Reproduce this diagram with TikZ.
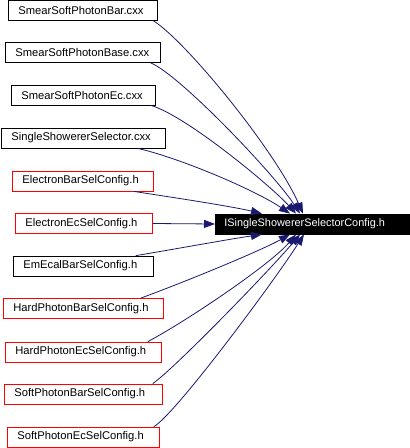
\documentclass[tikz,border=0pt]{standalone}
\usepackage{fontspec}
\setmainfont{Liberation Sans}
\usetikzlibrary{arrows.meta,calc}
\definecolor{edgeblue}{HTML}{191970}
\begin{document}
\begin{tikzpicture}[x=1pt,y=-1pt,
  box/.style={draw=black,line width=0.8pt,anchor=west,inner xsep=10pt,inner ysep=0pt,
    minimum height=20pt,align=left,font=\fontsize{11.2}{12}\selectfont},
  redbox/.style={box,draw=red},
  target/.style={box,fill=black,text=white,inner xsep=9pt,font=\fontsize{10.9}{12}\selectfont},
  dep/.style={draw=edgeblue,line width=0.8pt,-{Triangle[length=11pt,width=8pt]},fill=none}]
\useasboundingbox (0,0) rectangle (410,448);
\node[box,text width=129pt] (s1) at (8,10) {SmearSoftPhotonBar.cxx};
\node[box,text width=135pt] (s2) at (5,52.5) {SmearSoftPhotonBase.cxx};
\node[box,text width=124pt] (s3) at (11,95) {SmearSoftPhotonEc.cxx};
\node[box,text width=144pt] (s4) at (1,138) {SingleShowererSelector.cxx};
\node[redbox,text width=121pt] (s5) at (12,181) {ElectronBarSelConfig.h};
\node[redbox,text width=117pt] (s6) at (15,223.5) {ElectronEcSelConfig.h};
\node[box,text width=120pt] (s7) at (13,266) {EmEcalBarSelConfig.h};
\node[redbox,text width=140pt] (s8) at (3,308.5) {HardPhotonBarSelConfig.h};
\node[redbox,text width=136pt] (s9) at (5,352) {HardPhotonEcSelConfig.h};
\node[redbox,text width=138pt] (s10) at (4,394) {SoftPhotonBarSelConfig.h};
\node[redbox,text width=132pt] (s11) at (7,437) {SoftPhotonEcSelConfig.h};
\node[target,text width=176pt] (t) at (215,224) {ISingleShowererSelectorConfig.h};

\draw[dep] ($(s1.south east)+(-5,0)$) .. controls (185,40) and (275,150) .. ($(t.north west)+(88,0)$);
\draw[dep] ($(s2.south east)+(-10,0)$) .. controls (180,75) and (275,175) .. ($(t.north west)+(85,0)$);
\draw[dep] ($(s3.south east)+(-5,0)$) .. controls (185,115) and (270,185) .. ($(t.north west)+(81,0)$);
\draw[dep] ($(s4.south east)+(-28,0)$) .. controls (180,158) and (255,190) .. ($(t.north west)+(75,0)$);
\draw[dep] ($(s5.south east)+(-20,0)$) .. controls (170,197) and (230,206) .. ($(t.north west)+(47,0)$);
\draw[dep] (s6.east) -- (t.west);
\draw[dep] ($(s7.north east)+(-18,0)$) .. controls (170,250) and (230,239) .. ($(t.south west)+(47,0)$);
\draw[dep] ($(s8.north east)+(-23,0)$) .. controls (190,280) and (262,250) .. ($(t.south west)+(75,0)$);
\draw[dep] ($(s9.north east)+(-14,0)$) .. controls (185,322) and (270,265) .. ($(t.south west)+(81,0)$);
\draw[dep] ($(s10.north east)+(-10,0)$) .. controls (175,368) and (270,270) .. ($(t.south west)+(85,0)$);
\draw[dep] ($(s11.north east)+(-6,0)$) .. controls (175,415) and (275,280) .. ($(t.south west)+(89,0)$);
\end{tikzpicture}
\end{document}
